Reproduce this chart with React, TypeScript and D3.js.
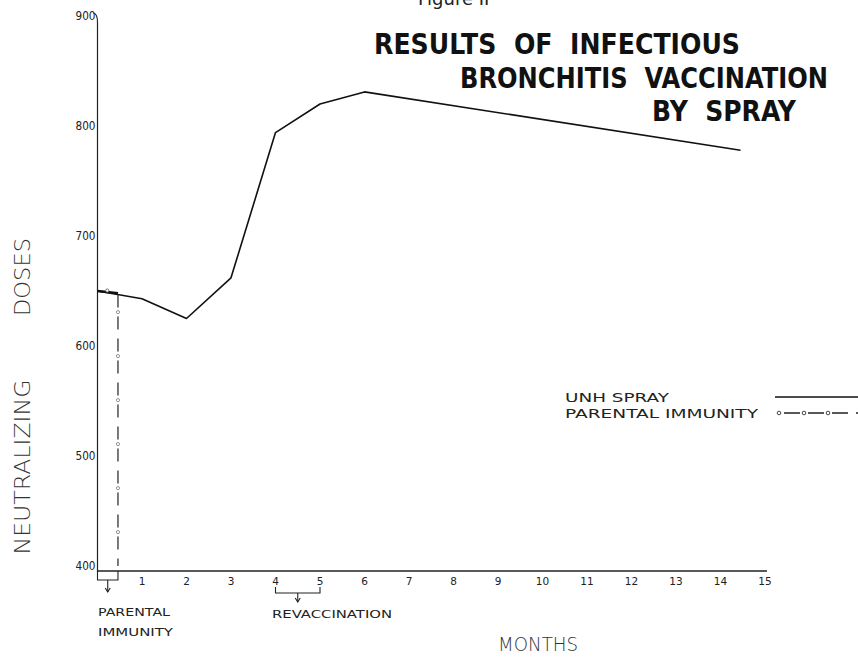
import React, { useEffect, useRef } from "react";
import * as d3 from "d3";

// UNH spray curve
const months = [0, 1, 2, 3, 4, 5, 6, 14.45];
const unhSpray = [650, 643, 625, 662, 794, 820, 831, 778];

// parental immunity: short run then drops straight down to the axis
const parentalMonths = [0, 0.46, 0.46];
const parentalImmunity = [650, 648, 400];

const xTicks = [1, 2, 3, 4, 5, 6, 7, 8, 9, 10, 11, 12, 13, 14, 15];
const yTicks = [400, 500, 600, 700, 800, 900];

const titleLines = ["RESULTS  OF  INFECTIOUS", "BRONCHITIS  VACCINATION", "BY  SPRAY"];
const legendLabels = ["UNH SPRAY", "PARENTAL IMMUNITY"];

const W = 858;
const H = 660;
const hand = "'DejaVu Sans', sans-serif";

export default function App() {
  const ref = useRef<SVGSVGElement>(null);

  useEffect(() => {
    const svg = d3.select(ref.current);
    svg.selectAll("*").remove();

    const x = d3.scaleLinear().domain([0, 15]).range([97.5, 765]);
    const y = d3.scaleLinear().domain([400, 900]).range([566, 16]);
    const axisY = 571;

    svg.append("rect").attr("width", W).attr("height", H).attr("fill", "#fff");

    // axes
    svg.append("path")
      .attr("d", `M${x(0) - 4},${y(900) - 3} Q${x(0)},${y(900) - 2} ${x(0)},${y(900) + 6} L${x(0)},${axisY + 1}`)
      .attr("fill", "none").attr("stroke", "#222").attr("stroke-width", 1.2);
    svg.append("line")
      .attr("x1", x(0)).attr("x2", x(15) + 2)
      .attr("y1", axisY).attr("y2", axisY)
      .attr("stroke", "#222").attr("stroke-width", 1.4);

    const yl = svg.append("g").attr("font-family", hand).attr("font-size", 11.5)
      .attr("fill", "#222").attr("text-anchor", "end");
    yl.selectAll("text").data(yTicks).join("text")
      .attr("x", x(0) - 2).attr("y", d => y(d) + 4)
      .attr("textLength", 20).attr("lengthAdjust", "spacingAndGlyphs")
      .text(d => d);

    const xl = svg.append("g").attr("font-family", hand).attr("font-size", 10.5)
      .attr("fill", "#222").attr("text-anchor", "middle");
    xl.selectAll("text").data(xTicks).join("text")
      .attr("x", d => x(d)).attr("y", axisY + 14)
      .text(d => d);

    // UNH spray
    const line = d3.line<number>().x((d, i) => x(months[i])).y(d => y(d));
    svg.append("path").datum(unhSpray).attr("d", line)
      .attr("fill", "none").attr("stroke", "#111").attr("stroke-width", 1.6)
      .attr("stroke-linejoin", "round");

    // parental immunity, dashed with small circles in the gaps
    const pLine = d3.line<number>().x((d, i) => x(parentalMonths[i])).y(d => y(d));
    const pPath = svg.append("path").datum(parentalImmunity).attr("d", pLine)
      .attr("fill", "none").attr("stroke", "#333").attr("stroke-width", 1.3)
      .attr("stroke-dasharray", "13 9");
    const node = pPath.node() as SVGPathElement;
    const len = node.getTotalLength();
    const dots: { x: number; y: number }[] = [];
    for (let s = 13 + 4.5 + 22; s < len - 10; s += 44) {
      const p = node.getPointAtLength(s);
      dots.push({ x: p.x, y: p.y });
    }
    svg.append("g").selectAll("circle").data(dots).join("circle")
      .attr("cx", d => d.x).attr("cy", d => d.y).attr("r", 1.6)
      .attr("fill", "none").attr("stroke", "#777").attr("stroke-width", 0.8);
    svg.append("line")
      .attr("x1", x(0)).attr("x2", x(0.46))
      .attr("y1", y(650)).attr("y2", y(648))
      .attr("stroke", "#111").attr("stroke-width", 2.4);
    svg.append("circle").attr("cx", x(0.22)).attr("cy", y(649.5) - 1).attr("r", 1.6)
      .attr("fill", "#fff").attr("stroke", "#555").attr("stroke-width", 0.8);

    // brackets under the axis
    const bracket = (a: number, b: number, top: number, bot: number, arrow: number) => {
      const g = svg.append("g").attr("fill", "none").attr("stroke", "#222").attr("stroke-width", 1.1);
      g.append("path").attr("d", `M${x(a)},${top} L${x(a)},${bot} L${x(b)},${bot} L${x(b)},${top}`);
      const m = (x(a) + x(b)) / 2;
      g.append("path").attr("d", `M${m},${bot} L${m},${arrow}`);
      g.append("path").attr("d", `M${m - 2.5},${arrow - 4} L${m},${arrow} L${m + 2.5},${arrow - 4}`);
    };
    bracket(0, 0.46, axisY, 580, 592);
    bracket(4, 5, 587, 593, 602);

    const notes = svg.append("g").attr("font-family", hand).attr("font-size", 11)
      .attr("fill", "#222");
    notes.append("text").attr("x", 98).attr("y", 616).attr("textLength", 72)
      .attr("lengthAdjust", "spacingAndGlyphs").text("PARENTAL");
    notes.append("text").attr("x", 98).attr("y", 636).attr("textLength", 75)
      .attr("lengthAdjust", "spacingAndGlyphs").text("IMMUNITY");
    notes.append("text").attr("x", 272).attr("y", 618).attr("textLength", 120)
      .attr("lengthAdjust", "spacingAndGlyphs").text("REVACCINATION");

    // axis titles
    svg.append("text").attr("x", 538).attr("y", 651).attr("text-anchor", "middle")
      .attr("font-family", hand).attr("font-size", 19).attr("font-weight", 200)
      .attr("fill", "#333").attr("textLength", 80).attr("lengthAdjust", "spacingAndGlyphs")
      .text("MONTHS");
    const yt = svg.append("g").attr("transform", "translate(30,0) rotate(-90)")
      .attr("font-family", hand).attr("font-size", 21).attr("font-weight", 200)
      .attr("fill", "#333").attr("text-anchor", "middle");
    yt.append("text").attr("x", -467).attr("y", 0).attr("textLength", 175)
      .attr("lengthAdjust", "spacingAndGlyphs").text("NEUTRALIZING");
    yt.append("text").attr("x", -277).attr("y", 0).attr("textLength", 78)
      .attr("lengthAdjust", "spacingAndGlyphs").text("DOSES");

    // title: tall narrow hand lettering, so small font stretched vertically
    const tPos = [
      { x: 374, y: 54, w: 366 },
      { x: 460, y: 88, w: 368 },
      { x: 652, y: 121, w: 144 },
    ];
    svg.append("g").attr("font-family", hand).attr("font-weight", "bold")
      .attr("font-size", 20).attr("fill", "#111")
      .selectAll("text").data(titleLines).join("text")
      .attr("transform", (d, i) => `translate(${tPos[i].x},${tPos[i].y}) scale(1,1.45)`)
      .attr("xml:space", "preserve")
      .style("white-space", "pre")
      .attr("textLength", (d, i) => tPos[i].w).attr("lengthAdjust", "spacingAndGlyphs")
      .text(d => d);
    // cut-off figure caption at the top edge
    svg.append("text").attr("x", 418).attr("y", 5).attr("font-family", hand)
      .attr("font-size", 18).attr("fill", "#222").text("Figure II");

    // legend
    const leg = svg.append("g").attr("font-family", hand).attr("font-size", 13).attr("fill", "#222");
    leg.selectAll("text").data(legendLabels).join("text")
      .attr("x", 565).attr("y", (d, i) => 402 + i * 16)
      .attr("textLength", (d, i) => (i === 0 ? 104 : 193))
      .attr("lengthAdjust", "spacingAndGlyphs")
      .text(d => d);
    leg.append("line").attr("x1", 775).attr("x2", W).attr("y1", 397).attr("y2", 397)
      .attr("stroke", "#111").attr("stroke-width", 1.4);
    leg.append("line").attr("x1", 784).attr("x2", W).attr("y1", 413).attr("y2", 413)
      .attr("stroke", "#222").attr("stroke-width", 1.3).attr("stroke-dasharray", "16 8");
    leg.selectAll("circle").data([779, 804, 828]).join("circle")
      .attr("cx", d => d).attr("cy", 413).attr("r", 1.8)
      .attr("fill", "none").attr("stroke", "#333").attr("stroke-width", 0.9);
  }, []);

  return (
    <svg ref={ref} width={W} height={H}
      style={{ position: "absolute", left: 0, top: 0, display: "block" }} />
  );
}
